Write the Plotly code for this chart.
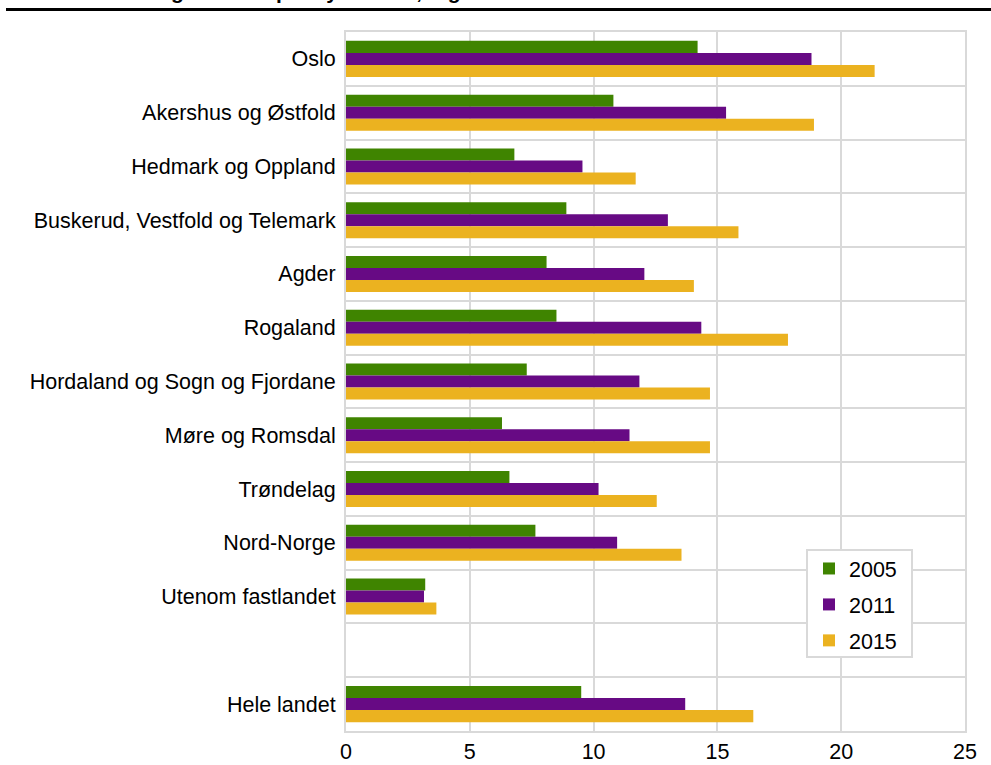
import plotly.graph_objects as go

regions = ["Oslo", "Akershus og Østfold", "Hedmark og Oppland",
           "Buskerud, Vestfold og Telemark", "Agder", "Rogaland",
           "Hordaland og Sogn og Fjordane", "Møre og Romsdal", "Trøndelag",
           "Nord-Norge", "Utenom fastlandet", " ", "Hele landet"]

v2005 = [14.2, 10.8, 6.8, 8.9, 8.1, 8.5, 7.3, 6.3, 6.6, 7.65, 3.2, None, 9.5]
v2011 = [18.8, 15.35, 9.55, 13.0, 12.05, 14.35, 11.85, 11.45, 10.2, 10.95, 3.15, None, 13.7]
v2015 = [21.35, 18.9, 11.7, 15.85, 14.05, 17.85, 14.7, 14.7, 12.55, 13.55, 3.65, None, 16.45]

series = [("2005", v2005, "#3f8400"), ("2011", v2011, "#670a84"), ("2015", v2015, "#ebb220")]

title_text = "Antall forskningsårsverk per sysselsatt, regioner"

FONT = "Liberation Sans, Arial, sans-serif"
GRID = "#d9d9d9"
FS = 21.5

# plot area in page pixels
L, R, T, B = 346, 965, 32, 731
PW, PH = R - L, B - T


def px(x):
    return (x - L) / PW


def py(y):
    return 1 - (y - T) / PH


fig = go.Figure()
for i, (name, vals, col) in enumerate(series):
    fig.add_trace(go.Bar(
        y=regions, x=vals, name=name, orientation="h",
        marker=dict(color=col, line=dict(width=0)),
        legendgroup=f"g{i}",
    ))

fig.update_layout(
    width=991, height=765,
    margin=dict(l=L, r=991 - R, t=T, b=765 - B, autoexpand=False),
    paper_bgcolor="white", plot_bgcolor="white",
    font=dict(family=FONT, size=FS, color="#000"),
    barmode="group", bargap=0.33, bargroupgap=0,
    showlegend=True,
    legend=dict(
        x=px(809), y=py(548), xanchor="left", yanchor="top",
        bgcolor="rgba(0,0,0,0)", borderwidth=0,
        font=dict(family=FONT, size=FS, color="#000"),
        traceorder="grouped", tracegroupgap=5,
    ),
    xaxis=dict(
        range=[0, 25], dtick=5, tick0=0, automargin=False,
        showgrid=True, gridcolor=GRID, gridwidth=2,
        zeroline=False,
        showline=True, linecolor=GRID, linewidth=2, mirror=True,
        tickfont=dict(family=FONT, size=FS, color="#000"),
        ticks="",
    ),
    yaxis=dict(
        type="category", categoryorder="array", categoryarray=regions,
        autorange="reversed", automargin=False,
        tickson="boundaries", showgrid=True, gridcolor=GRID, gridwidth=2,
        showline=True, linecolor=GRID, linewidth=2, mirror=True,
        tickfont=dict(family=FONT, size=FS, color="#000"),
        ticks="", ticklabelstandoff=4,
    ),
)

# legend frame
fig.add_shape(type="rect", xref="paper", yref="paper",
              x0=px(807), x1=px(912), y0=py(657), y1=py(550),
              line=dict(color=GRID, width=2), fillcolor="white", layer="above")

# heavy rule beneath the (cropped) title
fig.add_shape(type="line", xref="paper", yref="paper",
              x0=px(6), x1=px(991), y0=py(9.5), y1=py(9.5),
              line=dict(color="black", width=3))

fig.add_annotation(text="<b>" + title_text + "</b>", xref="paper", yref="paper",
                   x=px(22), y=py(5.0),
                   xanchor="left", yanchor="bottom", showarrow=False,
                   font=dict(family=FONT, size=21, color="#000"))

fig.write_html("out.html", config={"displayModeBar": False},
               post_script="document.body.style.margin='0px';")
